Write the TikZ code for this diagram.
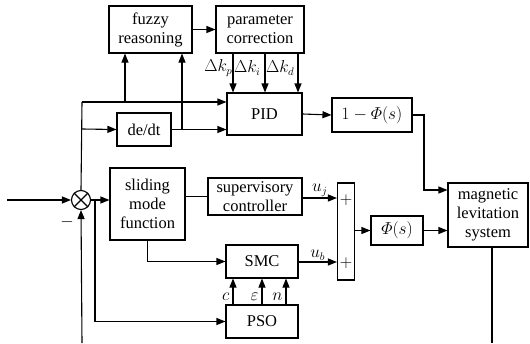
\documentclass[tikz,border=0pt]{standalone}
\usepackage{amsmath,amssymb}
\usepackage{fontspec}
\setmainfont{Liberation Serif}
\usetikzlibrary{arrows.meta,positioning,calc}

\begin{document}
\begin{tikzpicture}[
    x=1pt, y=-1pt,
    font=\fontsize{16.5}{19}\selectfont,
    >={Triangle[length=9pt,width=7pt]},
    line width=1.1pt,
    blk/.style={
      draw, line width=1.1pt, align=center, inner sep=1pt,
      minimum width=#1,
    },
    sig/.style={->, line width=1.1pt},
    wire/.style={line width=1.1pt},
    lbl/.style={inner sep=1pt, font=\fontsize{16}{18}\selectfont},
  ]
    \useasboundingbox (0,0) rectangle (530,343);

    % ===== Upper (fuzzy PID) branch =====
    \node[blk=83pt, minimum height=47pt] (fuzzy) at (150.5, 29.5) {fuzzy\\reasoning};
    \node[blk=88pt, minimum height=47pt] (param) at (260, 29.5) {parameter\\correction};
    \node[blk=75pt, minimum height=42pt] (pid) at (264.5, 114) {PID};
    \node[blk=54pt, minimum height=33pt] (dedt) at (144, 129.5) {de/dt};
    \node[blk=80pt, minimum height=34pt] (onephi) at (372, 115) {$1-\varPhi(s)$};

    % ===== Lower (sliding mode) branch =====
    \node[draw, circle, minimum size=19pt, inner sep=0pt] (sum) at (81, 200) {};
    \draw[wire] (sum.north west) -- (sum.south east);
    \draw[wire] (sum.north east) -- (sum.south west);
    \node[blk=75pt, minimum height=72pt] (smf) at (147.5, 204) {sliding\\mode\\function};
    \node[blk=94pt, minimum height=37pt] (super) at (255, 196.5) {supervisory\\controller};
    \node[blk=72pt, minimum height=33pt] (smc) at (262, 261.5) {SMC};
    \node[blk=72pt, minimum height=33pt] (pso) at (262, 321.5) {PSO};
    \node[draw, minimum width=17pt, minimum height=97pt, inner sep=0pt] (add) at (346, 231.5) {};
    \node[lbl] at (346, 200) {$+$};
    \node[lbl] at (346, 263) {$+$};
    \node[blk=52pt, minimum height=29pt] (phi) at (397, 230.5) {$\varPhi(s)$};
    \node[blk=80pt, minimum height=64pt] (plant) at (488, 215) {magnetic\\levitation\\system};

    % ===== Free ends =====
    \coordinate (in) at (7, 200);
    \coordinate (fbin) at (82, 343);
    \coordinate (fbout) at (492, 343);
    \coordinate (top) at (82, 102);
    \coordinate (mid) at (82, 129);
    \coordinate (ebr) at (95, 200);
    \coordinate (fz1) at (125, 102);
    \coordinate (fz2) at (182, 129);
    \coordinate (bend) at (424, 115);

    % ===== Edges: error signal =====
    \draw[sig] (in) -- (sum.west);
    \draw[sig] (fbin) -- (sum.south);
    \node[lbl] at (67, 222) {$-$};
    \draw[sig] (sum.east) -- (smf.west |- sum.east);
    \draw[sig] (ebr) |- (pso.west);
    \draw[wire] (sum.north) -- (top);
    \draw[sig] (top) -- (pid.west |- top);
    \draw[sig] (mid) -- (dedt.west);
    \draw[sig] (dedt.east) -- (pid.west |- dedt.east);
    \draw[sig] (fz1) -- (fz1 |- fuzzy.south);
    \draw[sig] (fz2) -- (fz2 |- fuzzy.south);

    % ===== Edges: fuzzy tuning =====
    \draw[sig] (fuzzy.east) -- (param.west);
    \foreach \xk in {233, 265, 298} {
      \draw[sig] (param.south -| \xk,0) -- (pid.north -| \xk,0);
    }
    \node[lbl, anchor=east] (kp) at (234, 68) {$\Delta k_p$};
    \node[lbl, anchor=west] (ki) at (232.5, 68) {$\Delta k_i$};
    \node[lbl, anchor=west] (kd) at (264.5, 68) {$\Delta k_d$};

    % ===== Edges: to plant =====
    \draw[sig] (pid.east) -- (onephi.west);
    \draw[sig] (onephi.east) -- (bend) |- (plant.west |- 0,190);
    \draw[wire] (smf.east |- super.west) -- (super.west);
    \draw[sig] (super.east |- 0,198) -- node[lbl, above] {$u_j$} (add.west |- 0,198);
    \draw[sig] (smf.south) |- (smc.west);
    \draw[sig] (smc.east |- 0,262) -- node[lbl, above] {$u_b$} (add.west |- 0,262);
    \draw[sig] (add.east |- phi.west) -- (phi.west);
    \draw[sig] (phi.east) -- (plant.west |- phi.east);
    \draw[wire] (plant.south -| fbout) -- (fbout);

    % ===== Edges: PSO tuning =====
    \draw[sig] (pso.north -| 233,0) -- node[lbl, left=2pt, pos=0.3] {$c$} (smc.south -| 233,0);
    \draw[sig] (pso.north -| 262,0) -- node[lbl, left=2pt, pos=0.3] {$\varepsilon$} (smc.south -| 262,0);
    \draw[sig] (pso.north -| 286,0) -- node[lbl, left=2pt, pos=0.3] {$n$} (smc.south -| 286,0);

  \end{tikzpicture}
\end{document}
